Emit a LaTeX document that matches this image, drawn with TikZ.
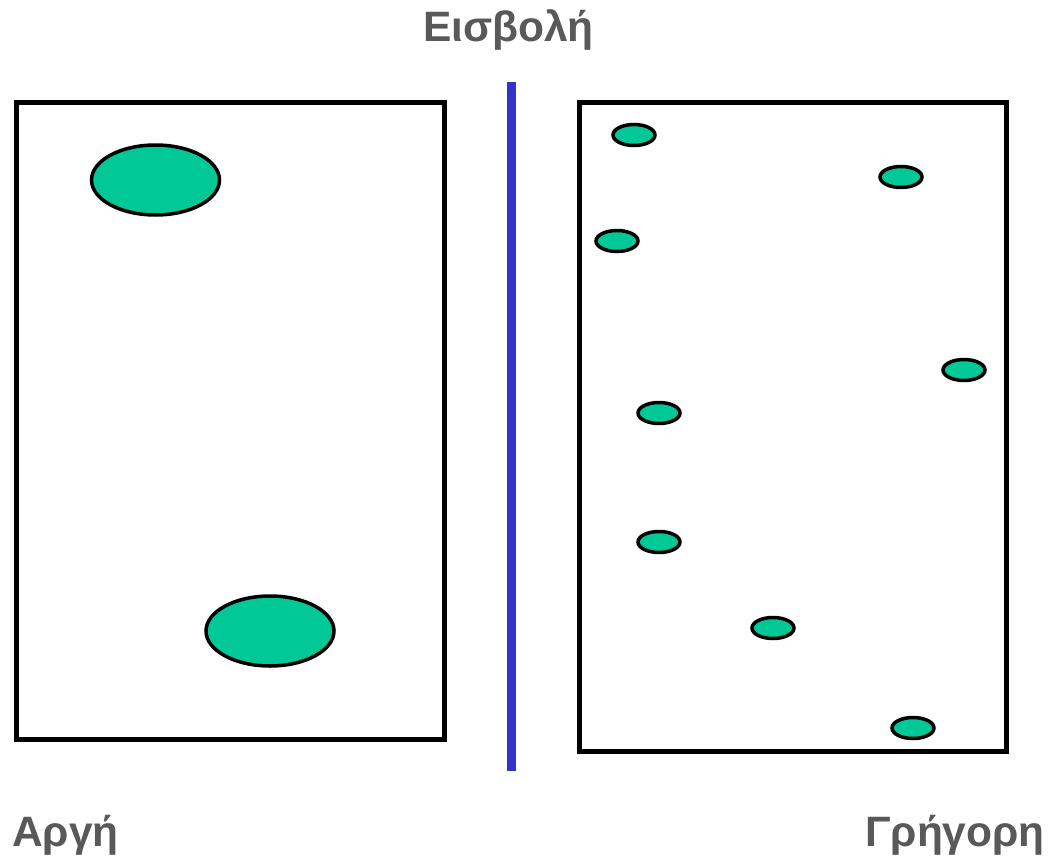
\documentclass[tikz,border=0pt]{standalone}
\usepackage{fontspec}
\setmainfont{Liberation Sans}
\usetikzlibrary{shapes.geometric}
\definecolor{txtgray}{HTML}{595959}
\definecolor{cellfill}{HTML}{00C896}
\definecolor{barblue}{HTML}{3333CC}
\begin{document}
\begin{tikzpicture}[x=1pt,y=-1pt,
  lbl/.style={inner sep=0pt,text=txtgray,font=\fontsize{42.5}{46}\selectfont\bfseries},
  panel/.style={draw=black,line width=4.5pt,fill=white},
  bigcell/.style={ellipse,draw=black,line width=3.5pt,fill=cellfill,minimum width=128pt,minimum height=70pt,inner sep=0pt},
  smallcell/.style={ellipse,draw=black,line width=3.5pt,fill=cellfill,minimum width=42pt,minimum height=21pt,inner sep=0pt}]
\useasboundingbox (0,0) rectangle (1049,859);
\fill[white] (0,0) rectangle (1049,859);
\draw[panel] (16.5,102.5) rectangle (444.5,739.5);
\draw[panel] (579.5,102.5) rectangle (1006.5,751.5);
\coordinate (bartop) at (511.5,82);
\coordinate (barbot) at (511.5,771);
\draw[barblue,line width=9pt] (bartop) -- (barbot);
\node[bigcell] (c1) at (155.5,180) {};
\node[bigcell] (c2) at (270,631) {};
\node[smallcell] (s1) at (634,135) {};
\node[smallcell] (s2) at (901,177) {};
\node[smallcell] (s3) at (617,241) {};
\node[smallcell] (s4) at (964,370) {};
\node[smallcell] (s5) at (659,413) {};
\node[smallcell] (s6) at (659,542) {};
\node[smallcell] (s7) at (773,628) {};
\node[smallcell] (s8) at (913,728) {};
\node[lbl,anchor=base west] (t1) at (423,42) {Εισβολή};
\node[lbl,anchor=base west] (t2) at (12,846) {Αργή};
\node[lbl,anchor=base east] (t3) at (1045,846) {Γρήγορη};
\end{tikzpicture}
\end{document}
